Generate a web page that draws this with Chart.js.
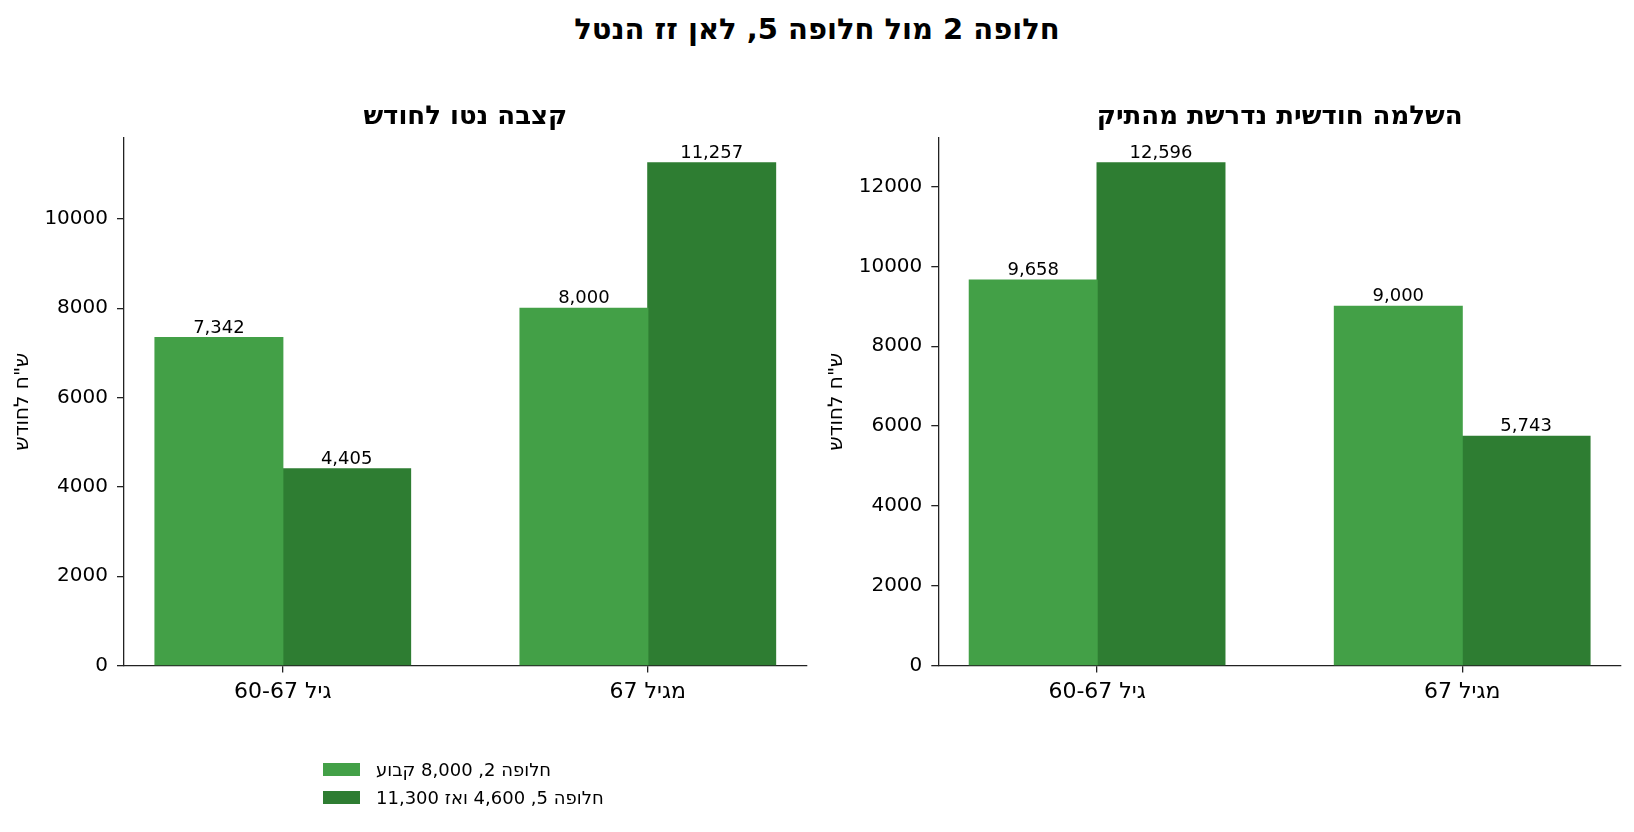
<!DOCTYPE html>
<html>
<head>
<meta charset="utf-8">
<script src="https://cdn.jsdelivr.net/npm/chart.js@4.4.1/dist/chart.umd.min.js"></script>
<style>
  body { margin: 0; background: #fff; font-family: 'DejaVu Sans', sans-serif; }
  #wrap { position: relative; width: 1634px; height: 832px; overflow: hidden; }
  #mainTitle {
    position: absolute; left: 0; top: 11px; width: 1634px; text-align: center;
    font: bold 29px 'DejaVu Sans', sans-serif; line-height: 36px; color: #000;
  }
  .panel { position: absolute; top: 0; width: 817px; height: 832px; }
  #legend { position: absolute; left: 323px; top: 755px; }
  .item { display: flex; align-items: center; height: 28px; }
  .swatch { width: 37px; height: 13px; margin-right: 16px; }
  .item span { font: 18px 'DejaVu Sans', sans-serif; color: #000; }
</style>
</head>
<body>
<div id="wrap">
  <div id="mainTitle" dir="rtl"></div>
  <div class="panel" style="left:0"><canvas id="chartLeft"></canvas></div>
  <div class="panel" style="left:817px"><canvas id="chartRight"></canvas></div>
  <div id="legend"></div>
</div>
<script>
// données
const mainTitle = 'חלופה 2 מול חלופה 5, לאן זז הנטל';
const panelTitles = ['קצבה נטו לחודש', 'השלמה חודשית נדרשת מהתיק'];
const yAxisTitle = 'ש"ח לחודש';
const categories = ['גיל 60-67', 'מגיל 67'];
const seriesNames = ['חלופה 2, 8,000 קבוע', 'חלופה 5, 4,600 ואז 11,300'];
const netPensionAlt2 = [7342, 8000];
const netPensionAlt5 = [4405, 11257];
const topUpAlt2 = [9658, 9000];
const topUpAlt5 = [12596, 5743];
const yTicksLeft = [0, 2000, 4000, 6000, 8000, 10000];
const yTicksRight = [0, 2000, 4000, 6000, 8000, 10000, 12000];
const yMaxLeft = 11820;
const yMaxRight = 13226;
const colors = ['#43a047', '#2e7d32'];

Chart.defaults.font.family = "'DejaVu Sans', sans-serif";
Chart.defaults.color = '#000';

document.getElementById('mainTitle').textContent = mainTitle;

// légende HTML (un élément par ligne)
const legend = document.getElementById('legend');
seriesNames.forEach((name, i) => {
  const row = document.createElement('div');
  row.className = 'item';
  const sw = document.createElement('div');
  sw.className = 'swatch';
  sw.style.background = colors[i];
  const txt = document.createElement('span');
  txt.dir = 'rtl';
  txt.textContent = name;
  row.appendChild(sw);
  row.appendChild(txt);
  legend.appendChild(row);
});

// étiquettes de valeur au-dessus des barres
const valueLabels = {
  id: 'valueLabels',
  afterDatasetsDraw(chart) {
    const ctx = chart.ctx;
    ctx.save();
    ctx.font = "18px 'DejaVu Sans'";
    ctx.fillStyle = '#000';
    ctx.textAlign = 'center';
    ctx.textBaseline = 'alphabetic';
    chart.data.datasets.forEach((ds, di) => {
      chart.getDatasetMeta(di).data.forEach((bar, i) => {
        ctx.fillText(ds.data[i].y.toLocaleString('en-US'), bar.x, bar.y - 5);
      });
    });
    ctx.restore();
  }
};

function toPoints(values) {
  return values.map((v, i) => ({ x: i, y: v }));
}

function makePanel(id, title, alt2, alt5, yTicks, yMax, geo) {
  const ctx = document.getElementById(id).getContext('2d');
  return new Chart(ctx, {
    type: 'bar',
    data: {
      datasets: [
        { label: seriesNames[0], data: toPoints(alt2), backgroundColor: colors[0], borderWidth: 0, inflateAmount: 0.6 },
        { label: seriesNames[1], data: toPoints(alt5), backgroundColor: colors[1], borderWidth: 0, inflateAmount: 0.6 }
      ]
    },
    options: {
      responsive: true,
      maintainAspectRatio: false,
      animation: false,
      categoryPercentage: 0.7,
      barPercentage: 1.0,
      layout: { padding: { top: 102.1, left: 0, right: geo.padRight, bottom: 106.5 } },
      plugins: {
        legend: { display: false },
        tooltip: { enabled: false },
        title: {
          display: true,
          text: title,
          fullSize: false,
          font: { size: 26, weight: 'bold' },
          color: '#000',
          padding: { top: 0, bottom: 4.4 }
        }
      },
      scales: {
        x: {
          type: 'linear',
          min: -0.435,
          max: 1.435,
          offset: false,
          bounds: 'data',
          afterBuildTicks: s => { s.ticks = categories.map((c, i) => ({ value: i })); },
          afterFit: s => { s.height = 60; },
          grid: { offset: false, drawOnChartArea: false, drawTicks: true, tickLength: 7, color: '#222', lineWidth: 1.3 },
          border: { display: true, color: '#222', width: 1.3 },
          ticks: {
            callback: v => categories[v],
            font: { size: 22 },
            color: '#000',
            padding: 7,
            maxRotation: 0,
            autoSkip: false
          }
        },
        y: {
          min: 0,
          max: yMax,
          bounds: 'data',
          afterBuildTicks: s => { s.ticks = yTicks.map(v => ({ value: v })); },
          afterFit: s => { s.width = geo.axisWidth; },
          grid: { drawOnChartArea: false, drawTicks: true, tickLength: 7, color: '#222', lineWidth: 1.3 },
          border: { display: true, color: '#222', width: 1.3 },
          ticks: {
            callback: v => String(v),
            font: { size: 20 },
            color: '#000',
            padding: 9
          },
          title: {
            display: true,
            text: yAxisTitle,
            font: { size: 20 },
            color: '#000',
            padding: { top: geo.titlePad, bottom: 0 }
          }
        }
      }
    },
    plugins: [valueLabels]
  });
}

makePanel('chartLeft', panelTitles[0], netPensionAlt2, netPensionAlt5, yTicksLeft, yMaxLeft,
  { padRight: 10.4, axisWidth: 124, titlePad: 10.5 });
makePanel('chartRight', panelTitles[1], topUpAlt2, topUpAlt5, yTicksRight, yMaxRight,
  { padRight: 13, axisWidth: 121.3, titlePad: 7.8 });
</script>
</body>
</html>
